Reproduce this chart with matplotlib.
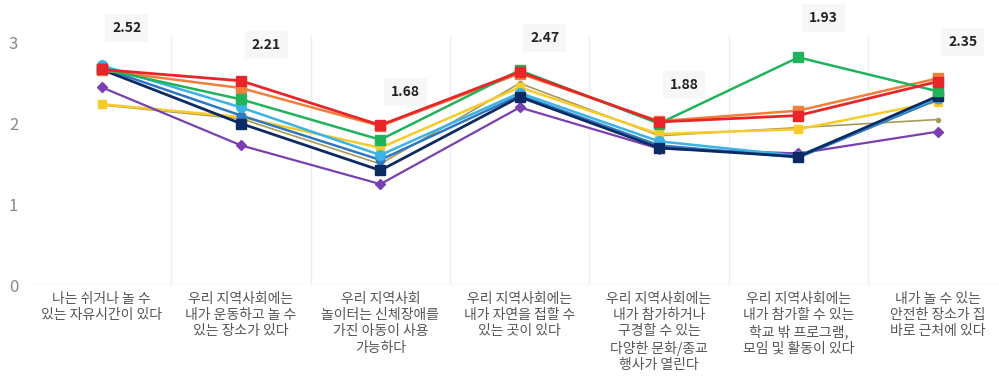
import numpy as np
import matplotlib
matplotlib.use('Agg')
import matplotlib.pyplot as plt

plt.rcParams['font.family'] = ['Noto Sans CJK KR', 'DejaVu Sans']

# categories (x axis)
categories = [
    '나는 쉬거나 놀 수\n있는 자유시간이 있다',
    '우리 지역사회에는\n내가 운동하고 놀 수\n있는 장소가 있다',
    '우리 지역사회\n놀이터는 신체장애를\n가진 아동이 사용\n가능하다',
    '우리 지역사회에는\n내가 자연을 접할 수\n있는 곳이 있다',
    '우리 지역사회에는\n내가 참가하거나\n구경할 수 있는\n다양한 문화/종교\n행사가 열린다',
    '우리 지역사회에는\n내가 참가할 수 있는\n학교 밖 프로그램,\n모임 및 활동이 있다',
    '내가 놀 수 있는\n안전한 장소가 집\n바로 근처에 있다',
]

# series values
red = [2.67, 2.53, 1.98, 2.64, 2.02, 2.10, 2.52]
orange = [2.66, 2.44, 1.97, 2.62, 2.03, 2.16, 2.56]
yellow = [2.24, 2.08, 1.70, 2.45, 1.87, 1.93, 2.27]
green = [2.68, 2.30, 1.80, 2.66, 2.00, 2.82, 2.40]
cyan = [2.72, 2.20, 1.61, 2.38, 1.78, 1.60, 2.32]
blue = [2.69, 2.10, 1.55, 2.35, 1.73, 1.58, 2.30]
navy = [2.67, 2.00, 1.42, 2.33, 1.70, 1.59, 2.34]
purple = [2.45, 1.73, 1.25, 2.20, 1.69, 1.63, 1.90]
olive = [2.23, 2.06, 1.50, 2.50, 1.85, 1.95, 2.05]

# average labels
averages = ['2.52', '2.21', '1.68', '2.47', '1.88', '1.93', '2.35']
avg_y = [3.18, 2.97, 2.39, 3.06, 2.48, 3.31, 3.01]

fig = plt.figure(figsize=(9.99, 3.8), dpi=100)
ax = fig.add_axes([32/999, 95/380, 967/999, 282.5/380])

x = np.arange(len(categories))

series = [
    (olive, '#a89a5a', 'o', 3, 1.2),
    (yellow, '#f6cb2a', 's', 6, 1.8),
    (purple, '#7a3fb0', 'D', 5, 1.6),
    (blue, '#2f78c4', 'o', 6, 1.8),
    (cyan, '#3bb3e6', 'o', 7, 1.8),
    (navy, '#0d2b63', 's', 7, 2.0),
    (orange, '#f07f3c', 's', 7, 1.8),
    (green, '#21b35b', 's', 7, 1.8),
    (red, '#e8262a', 's', 7, 2.0),
]
for vals, col, mk, ms, lw in series:
    ax.plot(x, vals, color=col, marker=mk, markersize=ms, linewidth=lw, zorder=3)

for i in range(len(categories) - 1):
    ax.plot([i + 0.5, i + 0.5], [0, 3.1], color='#eeeeee', linewidth=1, zorder=0)
ax.axhline(0, color='#e6e6e6', linewidth=1, zorder=0)

for i, (t, yy) in enumerate(zip(averages, avg_y)):
    ax.text(i + 0.18, yy, t, ha='center', va='center', fontsize=10,
            fontweight='bold', color='#222222', zorder=1,
            bbox=dict(boxstyle='square,pad=0.5', fc='#f7f7f7', ec='none'))

ax.set_xlim(-0.5, 6.44)
ax.set_ylim(0, 3.5)
ax.set_yticks([0, 1, 2, 3])
ax.set_xticks(x)
ax.set_xticklabels(categories, fontsize=10, color='#555555', linespacing=1.2)
ax.tick_params(axis='y', labelsize=12, colors='#888888', length=0, pad=10)
ax.tick_params(axis='x', length=0, pad=5)
for s in ax.spines.values():
    s.set_visible(False)

fig.savefig('out.png', dpi=100)
